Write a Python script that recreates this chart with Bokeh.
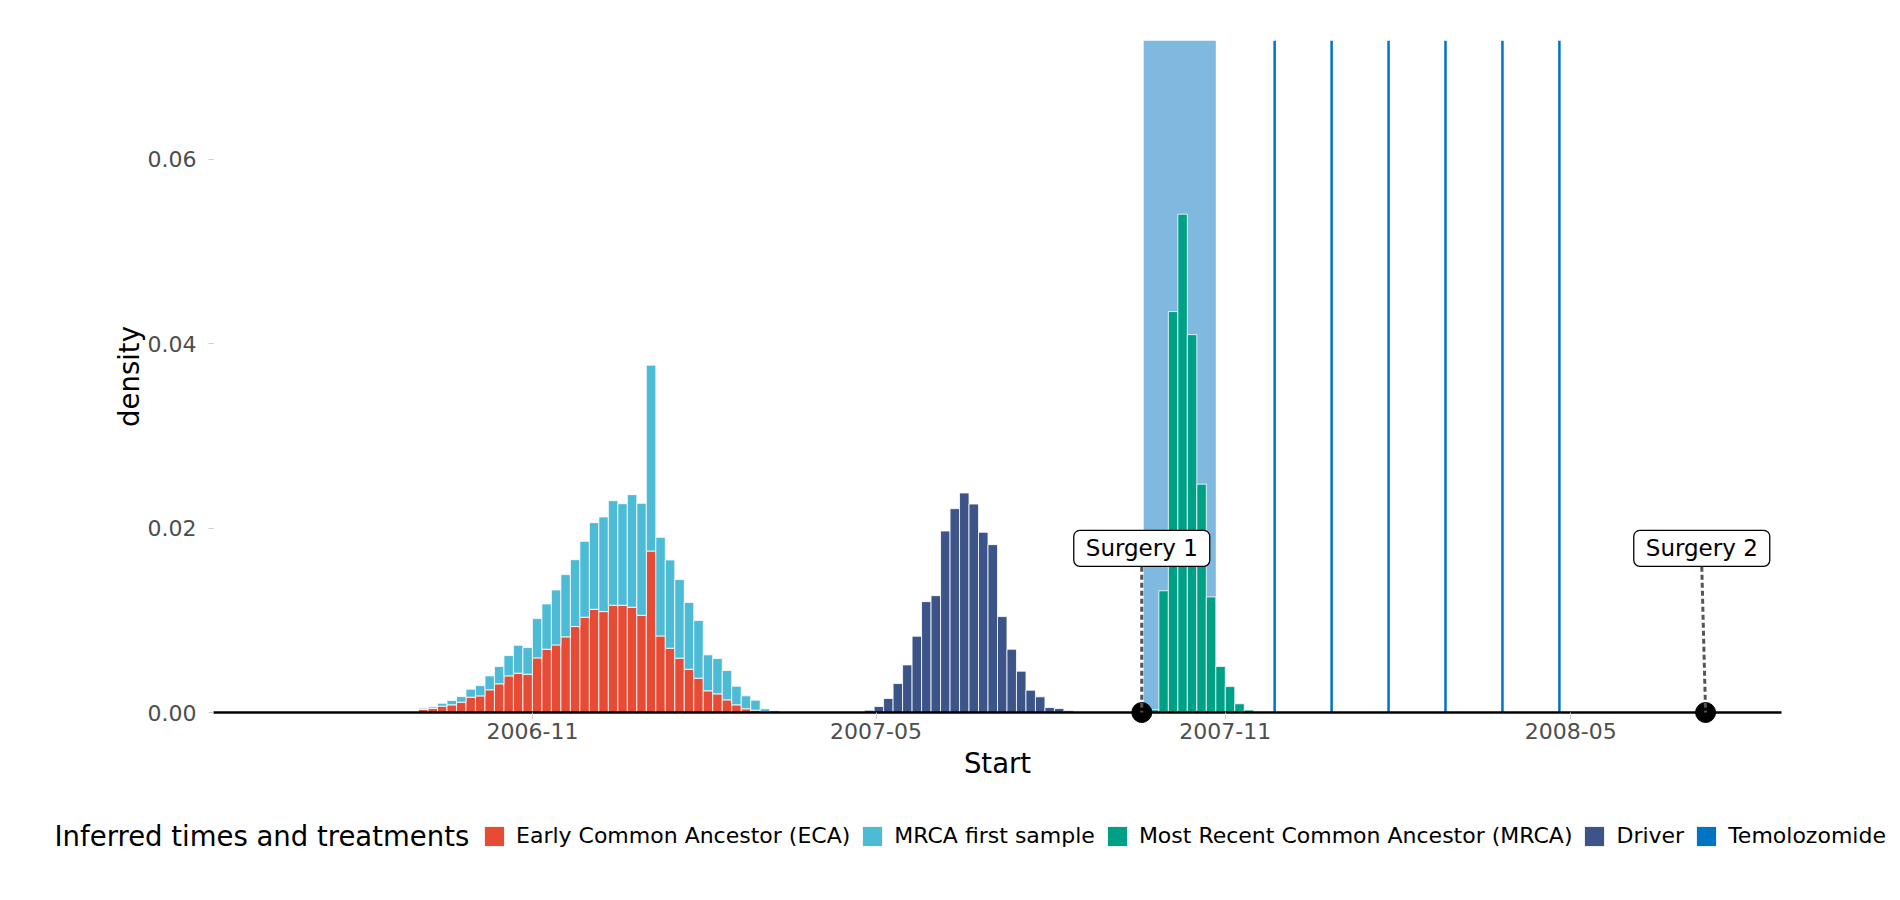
import pandas as pd
from bokeh.plotting import figure
from bokeh.layouts import column
from bokeh.models import (ColumnDataSource, Range1d, FixedTicker, DatetimeTickFormatter,
                          PrintfTickFormatter, Label, Legend, LegendItem, BoxAnnotation)
from bokeh.embed import file_html
from bokeh.resources import INLINE

# ---------------- data ----------------
BIN_DAYS = 5

eca_first_bin = "2006-08-18"
eca_density = [0.0001, 0.0001, 0.0001, 0.00033, 0.00043, 0.00069, 0.00083, 0.00112, 0.00166, 0.0018,
               0.00246, 0.00311, 0.00397, 0.00426, 0.00415, 0.00592, 0.00686, 0.00733, 0.0082, 0.00932,
               0.01033, 0.01119, 0.01094, 0.01163, 0.01163, 0.01141, 0.01054, 0.01751, 0.0083, 0.00697,
               0.00589, 0.00469, 0.00372, 0.00235, 0.00202, 0.00137, 0.00083, 0.0004, 0.00025, 0.0001, 0.0]
# stacked on top of ECA (same bins)
mrca_first_density = [0.0, 0.0, 0.0, 0.00014, 0.00017, 0.00031, 0.00047, 0.00061, 0.00087, 0.00112,
                      0.00151, 0.00187, 0.0022, 0.00303, 0.00289, 0.00426, 0.00491, 0.00596, 0.00675, 0.00725,
                      0.00823, 0.00939, 0.01026, 0.01134, 0.01101, 0.01221, 0.01214, 0.02015, 0.01069, 0.00957,
                      0.00852, 0.00723, 0.00625, 0.0039, 0.00383, 0.00318, 0.00202, 0.00141, 0.00109, 0.0003, 0.0002]

driver_first_bin = "2007-04-25"
driver_density = [0.00025, 0.00065, 0.00152, 0.00314, 0.00516, 0.00827, 0.01202, 0.01267, 0.01968, 0.0221,
                  0.0238, 0.0226, 0.01954, 0.0182, 0.0104, 0.00686, 0.00448, 0.00242, 0.0017, 0.00054,
                  0.00043, 0.00018]

mrca_first_bin = "2007-09-22"
mrca_density = [0.0003, 0.0132, 0.04347, 0.05403, 0.04097, 0.02476, 0.01253, 0.005, 0.00281, 0.00095, 0.00027]

treatment_band = ["2007-09-19", "2007-10-27"]
temozolomide_dates = ["2007-11-27", "2007-12-27", "2008-01-26", "2008-02-25", "2008-03-26", "2008-04-25"]

surgery_names = ["Surgery 1", "Surgery 2"]
surgery_dates = ["2007-09-18", "2008-07-11"]
surgery_label_dates = ["2007-09-18", "2008-07-09"]

x_tick_labels = ["2006-11", "2007-05", "2007-11", "2008-05"]
y_ticks = [0.0, 0.02, 0.04, 0.06]

legend_title = "Inferred times and treatments"
names = ["Early Common Ancestor (ECA)", "MRCA first sample", "Most Recent Common Ancestor (MRCA)",
         "Driver", "Temolozomide"]
colors = ["#E64B35", "#4DBBD5", "#00A087", "#3C5488", "#0073C2"]

# ---------------- helpers ----------------
def bins(first, n):
    left = pd.to_datetime(first) + pd.to_timedelta([BIN_DAYS * i for i in range(n)], unit="D")
    right = left + pd.to_timedelta(BIN_DAYS, unit="D")
    return left, right

X_START = pd.Timestamp("2006-05-17")
X_END = pd.Timestamp("2008-08-20")
Y_TOP = 0.07286
FONT = "DejaVu Sans"

p = figure(width=1900, height=800, x_axis_type="datetime",
           x_range=Range1d(X_START, X_END), y_range=Range1d(0, Y_TOP),
           output_backend="svg", toolbar_location=None,
           min_border_left=213, min_border_right=119, min_border_top=40, min_border_bottom=88)
p.frame_align = False
p.outline_line_color = None
p.xgrid.visible = False
p.ygrid.visible = False
p.background_fill_color = "white"

# treatment band (behind bars)
band = BoxAnnotation(left=pd.Timestamp(treatment_band[0]), right=pd.Timestamp(treatment_band[1]),
                     fill_color=colors[4], fill_alpha=0.5, line_color=None, level="underlay")
p.add_layout(band)

# ECA + MRCA first sample (stacked)
l, r = bins(eca_first_bin, len(eca_density))
eca_top = list(eca_density)
mf_top = [a + b for a, b in zip(eca_density, mrca_first_density)]
src_eca = ColumnDataSource(dict(left=l, right=r, bottom=[0] * len(l), top=eca_top))
src_mf = ColumnDataSource(dict(left=l, right=r, bottom=eca_top, top=mf_top))
p.quad(left="left", right="right", bottom="bottom", top="top", source=src_eca,
       fill_color=colors[0], line_color="white", line_width=1, line_alpha=0.8)
p.quad(left="left", right="right", bottom="bottom", top="top", source=src_mf,
       fill_color=colors[1], line_color="white", line_width=1, line_alpha=0.8)

# MRCA
l, r = bins(mrca_first_bin, len(mrca_density))
src_m = ColumnDataSource(dict(left=l, right=r, bottom=[0] * len(l), top=mrca_density))
p.quad(left="left", right="right", bottom="bottom", top="top", source=src_m,
       fill_color=colors[2], line_color="white", line_width=1, line_alpha=0.8)

# Driver
l, r = bins(driver_first_bin, len(driver_density))
src_d = ColumnDataSource(dict(left=l, right=r, bottom=[0] * len(l), top=driver_density))
p.quad(left="left", right="right", bottom="bottom", top="top", source=src_d,
       fill_color=colors[3], line_color="white", line_width=1, line_alpha=0.8)

# Temozolomide cycles
tmz = pd.to_datetime(temozolomide_dates)
p.segment(x0=tmz, y0=[0] * len(tmz), x1=tmz, y1=[Y_TOP] * len(tmz), line_color=colors[4], line_width=2.5)

# surgeries
sd = pd.to_datetime(surgery_dates)
sl = pd.to_datetime(surgery_label_dates)
p.scatter(x=sd, y=[0] * len(sd), size=20, color="black", level="overlay")
p.segment(x0=sl, y0=[0.0158] * len(sl), x1=sd, y1=[0] * len(sd), line_color="#555555",
          line_width=3, line_dash="5 3", level="overlay")
for name, d in zip(surgery_names, sl):
    p.add_layout(Label(x=d, y=0.0178, text=name, text_align="center", text_baseline="middle",
                       text_font=FONT, text_font_size="23px", text_color="black",
                       background_fill_color="white", border_line_color="black", border_line_width=1.3,
                       border_radius=6, padding=dict(x=12, y=5)))

# axes
xa = p.xaxis[0]
xa.ticker = FixedTicker(ticks=[pd.Timestamp(t + "-01").value / 1e6 for t in x_tick_labels])
fmt = "%Y-%m"
xa.formatter = DatetimeTickFormatter(milliseconds=fmt, seconds=fmt, minsec=fmt, minutes=fmt, hourmin=fmt,
                                     hours=fmt, days=fmt, months=fmt, years=fmt)
xa.axis_line_color = "black"
xa.axis_line_width = 2.5
xa.major_tick_in = 0
xa.major_tick_out = 7
xa.major_tick_line_color = "#CCCCCC"
xa.minor_tick_line_color = None
xa.major_label_standoff = 3
xa.major_label_text_font = FONT
xa.major_label_text_font_size = "22px"
xa.major_label_text_color = "#4D4D4D"
xa.axis_label = "Start"
xa.axis_label_text_font = FONT
xa.axis_label_text_font_size = "27.5px"
xa.axis_label_text_font_style = "normal"
xa.axis_label_text_color = "black"
xa.axis_label_standoff = 5

ya = p.yaxis[0]
ya.ticker = FixedTicker(ticks=y_ticks)
ya.formatter = PrintfTickFormatter(format="%.2f")
ya.axis_line_color = None
ya.major_tick_in = 0
ya.major_tick_out = 5
ya.major_tick_line_color = "#CCCCCC"
ya.minor_tick_line_color = None
ya.major_label_standoff = 12
ya.major_label_text_font = FONT
ya.major_label_text_font_size = "22px"
ya.major_label_text_color = "#4D4D4D"
ya.axis_label = "density"
ya.axis_label_text_font = FONT
ya.axis_label_text_font_size = "27.5px"
ya.axis_label_text_font_style = "normal"
ya.axis_label_text_color = "black"
ya.axis_label_standoff = 0

# ---------------- legend strip ----------------
leg = figure(width=1900, height=100, x_range=Range1d(0, 1), y_range=Range1d(0, 1),
             x_axis_type=None, y_axis_type=None, output_backend="svg", toolbar_location=None,
             min_border=0)
leg.frame_align = False
leg.outline_line_color = None
leg.xgrid.visible = False
leg.ygrid.visible = False
swatches = [leg.quad(left=[0], right=[0], bottom=[0], top=[0], fill_color=c, line_color=None)
            for c in colors]
items = [LegendItem(label=n, renderers=[rr]) for n, rr in zip(names, swatches)]
legend = Legend(items=items, orientation="horizontal",
                label_text_font=FONT, label_text_font_size="22px", label_text_color="black",
                glyph_width=24, glyph_height=24, label_standoff=10, spacing=10,
                padding=0, margin=0, border_line_color=None, background_fill_alpha=0,
                location=(482, 52))
leg.add_layout(legend)
leg.add_layout(Label(x=54, y=65, x_units="screen", y_units="screen", text=legend_title,
                     text_align="left", text_baseline="middle", text_font=FONT,
                     text_font_size="27.5px", text_color="black"))

open("out.html", "w").write(file_html(column(p, leg), INLINE))
